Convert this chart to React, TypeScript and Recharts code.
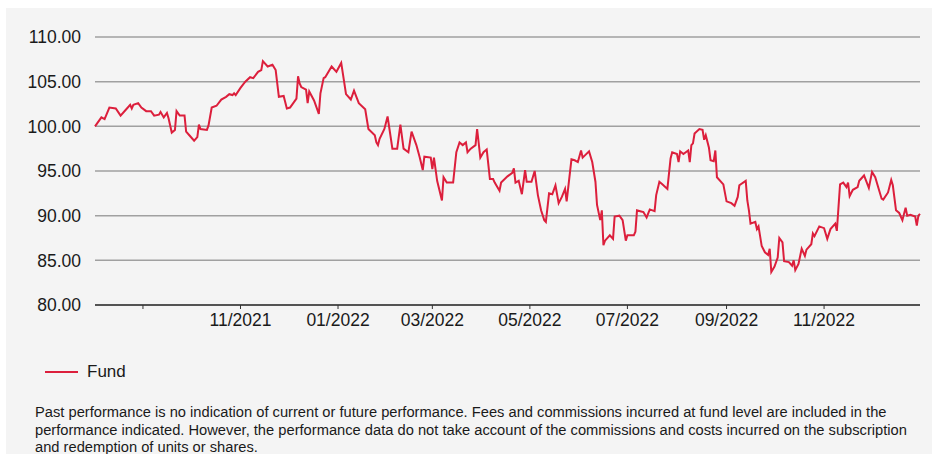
import { LineChart, Line, XAxis, YAxis, CartesianGrid } from 'recharts'

const START_DATE = '2021-08-02'

// days since START_DATE
const DAY_OFFSETS = [
  0, 4, 6, 9, 13, 16, 19, 22, 23, 24, 27, 29, 32, 35, 37, 40, 41, 43, 45, 46,
  48, 50, 51, 53, 56, 57, 59, 62, 64, 65, 66, 70, 71, 73, 76, 79, 82, 84, 86, 87,
  88, 91, 94, 97, 99, 102, 104, 105, 108, 111, 113, 115, 118, 120, 122, 126, 127, 128,
  129, 132, 133, 134, 137, 140, 141, 143, 144, 148, 151, 154, 157, 160, 162, 165, 169, 171,
  175, 176, 177, 178, 181, 183, 186, 189, 191, 193, 196, 198, 201, 203, 205, 206, 210, 211,
  212, 214, 217, 218, 220, 224, 226, 228, 230, 232, 233, 235, 238, 239, 241, 243, 245, 247,
  249, 250, 253, 254, 258,
  261, 262, 263, 265, 267, 269, 270, 273, 275, 277, 279, 281, 282, 284, 286, 288, 290, 292,
  294, 295, 298, 300, 302, 304, 305, 309, 311, 313, 314, 316, 317, 318, 319, 322, 324, 325,
  328, 330, 332, 333, 337, 338, 339, 341, 343, 345, 347, 350, 351, 353, 355, 358, 360, 361,
  364, 365, 366, 368, 371, 372, 373, 374, 375, 378, 380, 381, 382,
  384, 385, 387, 388, 389, 392, 393, 395, 398, 400, 402, 403, 407, 408, 409, 410, 413, 414,
  415, 417, 419, 421, 422, 423, 425, 427, 428, 430, 431, 434, 436, 437, 438, 440, 442, 444,
  445, 448, 449, 450, 453, 456, 458, 460, 463, 464, 466, 468, 470, 471, 472, 474, 477, 478,
  481, 484, 486, 488, 490, 492, 493, 496, 498, 499, 501, 503, 505, 507, 508, 510, 513, 514,
  515, 516,
]

const FUND_VALUES = [
  100.0, 101.0, 100.8, 102.1, 102.0, 101.2, 101.8, 102.4, 102.0, 102.4, 102.6, 102.1, 101.7, 101.7, 101.2, 101.3, 101.6, 101.0, 101.5, 100.9,
  99.3, 99.6, 101.7, 101.2, 101.2, 99.4, 99.0, 98.4, 98.8, 100.2, 99.7, 99.6, 100.1, 102.1, 102.3, 103.0, 103.3, 103.6, 103.5, 103.7,
  103.5, 104.3, 105.0, 105.5, 105.4, 106.1, 106.3, 107.3, 106.7, 106.9, 106.3, 103.3, 103.4, 102.0, 102.1, 103.1, 105.6, 104.8,
  104.4, 104.1, 102.6, 103.9, 102.9, 101.4, 103.7, 105.4, 105.5, 106.7, 106.1, 107.1, 103.6, 103.0, 104.0, 102.6, 101.9, 99.7,
  99.0, 98.2, 97.9, 98.6, 99.7, 101.1, 97.5, 97.5, 100.2, 97.5, 97.1, 99.4, 97.9, 96.6, 95.1, 96.6, 96.5, 95.2,
  96.5, 93.9, 91.7, 94.3, 93.7, 93.7, 97.1, 98.2, 97.9, 98.2, 97.1, 97.5, 97.9, 99.7, 96.5, 97.1, 97.4, 94.1,
  94.1, 93.7, 92.8, 93.7, 94.4,
  94.8, 95.3, 93.7, 93.9, 92.4, 95.1, 93.8, 93.8, 95.0, 92.3, 90.6, 89.5, 89.3, 92.5, 92.4, 93.4, 91.4, 92.1,
  93.0, 91.6, 96.3, 96.2, 96.0, 97.3, 96.5, 97.2, 96.0, 93.8, 91.2, 89.5, 90.6, 86.7, 87.2, 87.8, 87.4, 89.9,
  90.0, 89.5, 87.2, 87.8, 87.8, 88.2, 90.6, 90.5, 90.4, 89.8, 90.7, 90.5, 92.3, 93.8, 93.5, 93.0, 96.4, 97.1,
  96.9, 96.0, 97.2, 96.9, 97.3, 96.0, 97.9, 98.1, 99.2, 99.7, 99.6, 98.5, 99.0,
  97.6, 96.2, 96.1, 97.3, 94.3, 93.7, 93.5, 91.6, 91.4, 91.1, 92.1, 93.4, 93.9, 91.7, 90.6, 89.1, 89.3, 88.5,
  88.8, 86.6, 85.9, 85.6, 86.3, 83.7, 84.3, 85.3, 87.5, 87.0, 84.9, 84.8, 84.4, 85.0, 83.9, 84.6, 86.3, 85.5,
  86.2, 86.8, 88.0, 87.7, 88.8, 88.6, 87.4, 88.5, 89.1, 88.3, 93.5, 93.7, 93.2, 93.7, 92.2, 92.9, 93.2, 93.9,
  94.5, 93.1, 94.9, 94.3, 93.1, 91.9, 91.8, 92.6, 94.0, 93.4, 90.6, 90.3, 89.5, 90.9, 90.0, 90.1, 89.9, 88.9,
  90.0, 90.2,
]

const TICK_DATES = [
  '2021-09-01', '2021-11-01', '2022-01-01', '2022-03-01',
  '2022-05-01', '2022-07-01', '2022-09-01', '2022-11-01',
]
const TICK_LABELS = ['', '11/2021', '01/2022', '03/2022', '05/2022', '07/2022', '09/2022', '11/2022']

const Y_TICKS = [80, 85, 90, 95, 100, 105, 110]

const DAY_MS = 86400000
const toOffset = (d: string) => Math.round((Date.parse(d) - Date.parse(START_DATE)) / DAY_MS)
const xTicks = TICK_DATES.map(toOffset)
const labelFor = new Map(xTicks.map((t, i) => [t, TICK_LABELS[i]]))

const data = DAY_OFFSETS.map((d, i) => ({ day: d, fund: FUND_VALUES[i] }))

const RED = '#dc1f3c'
const FONT = '"Liberation Sans", Arial, sans-serif'

export default function App() {
  return (
    <div style={{ position: 'relative', width: 941, height: 454, background: '#fff', overflow: 'hidden' }}>
      <style>{'body{margin:0}'}</style>
      <div style={{ position: 'absolute', left: 6, top: 8, width: 926, height: 446, background: '#f4f4f4' }} />
      <div style={{ position: 'absolute', left: 0, top: 0 }}>
        <LineChart
          width={941}
          height={345}
          data={data}
          margin={{ top: 37, right: 21, left: 0, bottom: 0 }}
        >
          <CartesianGrid horizontal vertical={false} stroke="#a0a0a0" strokeWidth={1.5} />
          <XAxis
            dataKey="day"
            type="number"
            domain={[0, 516]}
            ticks={xTicks}
            tickFormatter={(v: number) => labelFor.get(v) ?? ''}
            height={40}
            tickSize={4}
            tickMargin={5}
            axisLine={{ stroke: '#333', strokeWidth: 1.5 }}
            tickLine={{ stroke: '#333' }}
            tick={{ fill: '#1a1a1a', fontSize: 17.5, fontFamily: FONT }}
          />
          <YAxis
            domain={[80, 110]}
            ticks={Y_TICKS}
            width={95}
            axisLine={false}
            tickLine={false}
            tickSize={6}
            tickMargin={8}
            tickFormatter={(v: number) => v.toFixed(2)}
            tick={{ fill: '#1a1a1a', fontSize: 17.5, fontFamily: FONT }}
          />
          <Line
            type="linear"
            dataKey="fund"
            stroke={RED}
            strokeWidth={2}
            dot={false}
            isAnimationActive={false}
          />
        </LineChart>
      </div>
      <div
        style={{
          position: 'absolute',
          left: 45,
          top: 362,
          display: 'flex',
          alignItems: 'center',
          height: 20,
          fontFamily: FONT,
          fontSize: 17,
          color: '#1a1a1a',
        }}
      >
        <span style={{ width: 33, height: 2, background: RED, display: 'inline-block', marginRight: 9 }} />
        <span>Fund</span>
      </div>
      <div
        style={{
          position: 'absolute',
          left: 35,
          top: 404,
          fontFamily: FONT,
          fontSize: 14.7,
          lineHeight: '17.5px',
          color: '#1a1a1a',
          whiteSpace: 'nowrap',
        }}
      >
        Past performance is no indication of current or future performance. Fees and commissions incurred at fund level are included in the
        <br />
        performance indicated. However, the performance data do not take account of the commissions and costs incurred on the subscription
        <br />
        and redemption of units or shares.
      </div>
    </div>
  )
}
